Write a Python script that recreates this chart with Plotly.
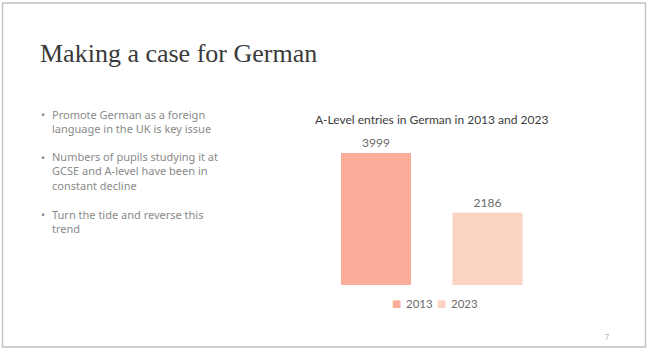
import plotly.graph_objects as go

W, H = 650, 352

# ---- data ----
years = ["2013", "2023"]
entries = [3999, 2186]
bar_colors = ["#FAAE9A", "#FBD3C3"]
chart_title = "A-Level entries in German in 2013 and 2023"
slide_title = "Making a case for German"
bullets = [
    ["Promote German as a foreign", "language in the UK is key issue"],
    ["Numbers of pupils studying it at", "GCSE and A-level have been in", "constant decline"],
    ["Turn the tide and reverse this", "trend"],
]
bullet_top_y = [114, 157, 214]
page_number = "7"


def px(x):
    return x / W


def py(y):
    return 1 - y / H


fig = go.Figure()
for yr, val, col in zip(years, entries, bar_colors):
    fig.add_trace(go.Bar(
        x=[yr], y=[val], name=yr,
        marker=dict(color=col, line=dict(width=0)),
        width=0.628,
        text=[str(val)], textposition="outside",
        textfont=dict(family="Lato", size=12, color="#6b6b6b"),
        cliponaxis=False,
        hoverinfo="skip",
        showlegend=False,
    ))

annotations = []
# slide title
annotations.append(dict(
    x=px(38), y=py(53), xref="paper", yref="paper", xanchor="left", yanchor="middle",
    text=slide_title, showarrow=False,
    font=dict(family="Liberation Serif", size=26, color="#3a3a3a"),
))
# bullets
fs = 11
for lines, y0 in zip(bullets, bullet_top_y):
    annotations.append(dict(
        x=px(38.5), y=py(y0), xref="paper", yref="paper", xanchor="left", yanchor="middle",
        text="•", showarrow=False, font=dict(family="Noto Sans", size=11, color="#8a8a8a"),
    ))
    n = len(lines)
    yc = y0 + (n - 1) * 1.3 * fs / 2
    annotations.append(dict(
        x=px(50), y=py(yc), xref="paper", yref="paper", xanchor="left", yanchor="middle",
        text="<br>".join(lines), showarrow=False, align="left",
        font=dict(family="Noto Sans", size=fs, color="#8a8a8a"),
    ))
# chart title
annotations.append(dict(
    x=px(431), y=py(119), xref="paper", yref="paper", xanchor="center", yanchor="middle",
    text=chart_title, showarrow=False,
    font=dict(family="Lato", size=12, color="#3c3c3c"),
))
# legend entries (colored squares + labels)
legend_x = [403, 448]
for yr, col, lx in zip(years, bar_colors, legend_x):
    annotations.append(dict(
        x=px(lx), y=py(303), xref="paper", yref="paper", xanchor="right", yanchor="middle",
        text="■", showarrow=False,
        font=dict(family="DejaVu Sans", size=10, color=col),
    ))
    annotations.append(dict(
        x=px(lx + 1), y=py(303), xref="paper", yref="paper", xanchor="left", yanchor="middle",
        text=yr, showarrow=False,
        font=dict(family="Lato", size=11.5, color="#6b6b6b"),
    ))
# page number
annotations.append(dict(
    x=px(607), y=py(337), xref="paper", yref="paper", xanchor="center", yanchor="middle",
    text=page_number, showarrow=False,
    font=dict(family="Lato", size=7, color="#b0b0b0"),
))

fig.update_layout(
    width=W, height=H,
    margin=dict(l=0, r=0, t=0, b=0),
    paper_bgcolor="white", plot_bgcolor="white",
    barmode="overlay",
    showlegend=False,
    xaxis=dict(
        domain=[px(320.25), px(543.25)], range=[-0.5, 1.5],
        showticklabels=False, showgrid=False, zeroline=False, showline=False,
        type="category", categoryorder="array", categoryarray=years,
    ),
    yaxis=dict(
        domain=[py(285), py(139.8)], range=[0, 4400],
        showticklabels=False, showgrid=False, zeroline=False, showline=False,
    ),
    annotations=annotations,
    shapes=[dict(
        type="rect", xref="paper", yref="paper",
        x0=px(2.5), x1=px(645.5), y0=py(347), y1=py(3),
        line=dict(color="#c4c4c4", width=1.5), fillcolor="rgba(0,0,0,0)",
    )],
)

fig.write_html("out.html")
